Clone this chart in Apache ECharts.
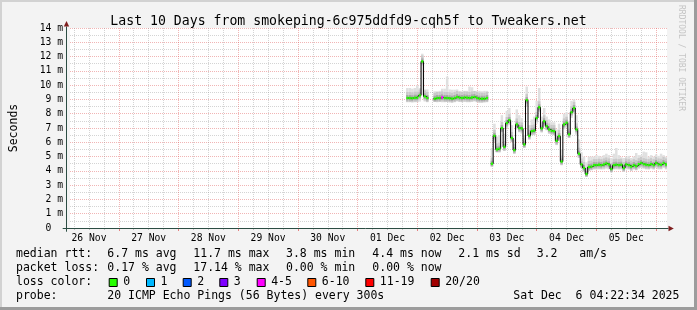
<!DOCTYPE html>
<html><head><meta charset="utf-8">
<script src="https://cdn.jsdelivr.net/npm/echarts@6/dist/echarts.min.js"></script>
<style>html,body{margin:0;padding:0;background:#f3f3f3}#c{width:697px;height:310px}</style>
</head><body><div id="c"></div><script>
// ---------- data ----------
const TITLE = 'Last 10 Days from smokeping-6c975ddfd9-cqh5f to Tweakers.net';
// x values are hours after 26 Nov 00:00; window = 26 Nov 04:22:34 .. 06 Dec 04:22:34
const xMin = 4.376, xMax = 244.376;
const dayLabelHours = [12, 36, 60, 84, 108, 132, 156, 180, 204, 228];
const dayLabels = ['26 Nov','27 Nov','28 Nov','29 Nov','30 Nov','01 Dec','02 Dec','03 Dec','04 Dec','05 Dec'];
const majorGridHours = [24, 48, 72, 96, 120, 144, 168, 192, 216, 240];
const minorGridHours = [6,12,18,30,36,42,54,60,66,78,84,90,102,108,114,126,132,138,150,156,162,174,180,186,198,204,210,222,228,234];
const yTickValues = [0,1,2,3,4,5,6,7,8,9,10,11,12,13,14];
const yTickLabels = ['0  ','1 m','2 m','3 m','4 m','5 m','6 m','7 m','8 m','9 m','10 m','11 m','12 m','13 m','14 m'];

// hourly samples (hours after 26 Nov 00:00)
const hours = [140,141,142,143,144,145,146,147,148,149,150,151,152,153,154,155,156,157,158,159,160,161,162,163,164,165,166,167,168,169,170,171,172,173,
 174,175,176,177,178,179,180,181,182,183,184,185,186,187,188,189,190,191,192,193,194,195,196,197,198,199,200,201,202,203,204,205,206,207,208,209,
 210,211,212,213,214,215,216,217,218,219,220,221,222,223,224,225,226,227,228,229,230,231,232,233,234,235,236,237,238,239,240,241,242,243,244];
// median rtt (ms)
const medianMs = [9.1,9.1,9.08,9.12,9.12,9.28,11.66,9.21,9.1, null,null,
 9.05,9.1,9.1,9.14,9.1,9.1,9.08,9.05,9.1,9.17,9.12,9.1,9.14,9.12,9.1,9.14,9.17,9.1,9.05,9.05,9.05,9.1, null,
 4.5,6.45,5.5,5.55,7.0,5.68,7.35,7.55,6.3,5.45,7.25,7.0,6.97,5.85,8.95,6.45,6.78,6.82,7.7,8.45,
 6.97,7.47,7.13,6.9,6.8,6.78,6.1,6.43,4.65,7.25,7.37,6.55,8.1,8.4,6.9,5.2,4.45,4.2,3.78,4.27,
 4.3,4.4,4.4,4.43,4.4,4.45,4.52,4.45,4.13,4.4,4.43,4.4,4.43,4.2,4.45,4.4,4.3,4.4,4.33,4.47,
 4.55,4.47,4.43,4.4,4.47,4.4,4.55,4.45,4.43,4.55,4.45];
// smoke (spread of the 20 pings) top and bottom (ms)
const smokeHiMs = [9.8,9.8,9.75,9.8,10.0,9.8,12.2,9.7,9.7, null,null,
 9.57,9.57,9.6,9.75,9.75,10.6,9.7,9.68,9.68,9.7,9.6,9.57,9.6,9.6,9.9,9.85,9.6,9.6,9.6,9.57,9.6,9.6, null,
 5.6,7.3,6.4,6.5,7.9,6.6,8.2,8.4,7.2,6.2,8.3,7.9,7.7,6.5,9.9,7.2,7.6,7.8,8.9,9.8,
 7.8,8.4,7.8,7.6,7.4,7.4,6.9,7.3,5.5,8.0,8.1,7.5,8.9,9.0,7.9,6.2,5.3,5.0,4.6,5.0,
 5.0,5.0,5.1,5.05,5.0,5.1,5.2,5.1,4.9,5.2,5.6,5.1,4.95,4.9,5.0,5.05,4.9,5.0,5.25,5.1,
 5.1,5.35,5.3,5.0,5.1,5.0,5.15,5.05,5.2,5.1,5.0];
const smokeLoMs = [8.8,8.8,8.8,8.8,8.8,8.85,9.3,8.85,8.8, null,null,
 8.82,8.8,8.82,8.8,8.8,8.82,8.8,8.78,8.8,8.85,8.82,8.8,8.82,8.8,8.8,8.82,8.85,8.8,8.78,8.78,8.8,8.8, null,
 4.3,6.0,5.3,5.3,6.7,5.4,7.0,7.2,6.0,5.2,6.9,6.7,6.6,5.6,8.5,6.2,6.5,6.5,7.3,8.1,
 6.7,7.1,6.85,6.6,6.55,6.5,5.8,6.1,4.4,6.9,7.0,6.3,7.7,8.0,6.5,4.9,4.2,3.95,3.6,4.0,
 4.05,4.1,4.1,4.1,4.1,4.1,4.15,4.1,3.9,4.1,4.1,4.1,4.1,3.95,4.1,4.1,4.0,4.1,4.05,4.15,
 4.2,4.15,4.1,4.1,4.15,4.1,4.2,4.1,4.1,4.2,4.1];
// hours with packet loss: [hour, pings lost of 20]; all other hours 0
const lossEvents = [[154, 3.43]];

const lossUpper = [0, 1, 2, 3, 5, 10, 19, 20];
const lossLabels = ['0','1','2','3','4-5','6-10','11-19','20/20'];
const lossColors = ['#26ff00','#00b8ff','#0059ff','#7e00ff','#ff00ff','#ff5500','#ff0000','#a10000'];

const statRows = [
  ['median rtt:', '6.7 ms avg', '11.7 ms max', '3.8 ms min', '4.4 ms now', '2.1 ms sd', '3.2', 'am/s'],
  ['packet loss:', '0.17 % avg', '17.14 % max', '0.00 % min', '0.00 % now']
];
const lossRowLabel = 'loss color:';
const probeRow = ['probe:', '20 ICMP Echo Pings (56 Bytes) every 300s'];
const stampText = 'Sat Dec  6 04:22:34 2025';
const sideText = 'RRDTOOL / TOBI OETIKER';

// ---------- chart ----------
const MONO = '"DejaVu Sans Mono", monospace';
const lossMap = {};
lossEvents.forEach(e => { lossMap[e[0]] = e[1]; });
function lossColor(l) { for (let i = 0; i < lossUpper.length; i++) if (l <= lossUpper[i]) return lossColors[i]; return lossColors[lossColors.length-1]; }

const smokeData = [], lineData = [], bandData = [];
hours.forEach((h, i) => {
  const m = medianMs[i];
  if (m == null) { lineData.push([h, '-']); return; }
  smokeData.push([h, smokeLoMs[i], smokeHiMs[i], m]);
  lineData.push([h, m]);
  bandData.push([h, m, lossMap[h] || 0]);
});

const chart = echarts.init(document.getElementById('c'), null, {renderer: 'canvas'});
const colX = [16, 107.3, 193.3, 286, 372.3, 458.3, 536.7, 579.3];
const rowY = [254.3, 268.3, 282.3, 296.3];
const boxX = [108.7, 146, 182.7, 219.3, 256.7, 307.3, 365.3, 430.7];
const graphics = [];
function txt(x, y, t, extra) {
  graphics.push({type: 'text', x: x, y: y, silent: true,
    style: Object.assign({text: t, fontFamily: MONO, fontSize: 11.5, fill: '#000', verticalAlign: 'middle', align: 'left'}, extra || {})});
}
statRows.forEach((row, r) => row.forEach((t, c) => txt(colX[c], rowY[r], t)));
txt(colX[0], rowY[2], lossRowLabel);
lossLabels.forEach((l, i) => {
  graphics.push({type: 'rect', silent: true, shape: {x: boxX[i] + 0.5, y: 278.5, width: 8, height: 8},
    style: {fill: lossColors[i], stroke: '#000', lineWidth: 1}});
  txt(boxX[i] + 14.5, rowY[2], l);
});
txt(colX[0], rowY[3], probeRow[0]);
txt(colX[1], rowY[3], probeRow[1]);
txt(513.3, rowY[3], stampText);
graphics.push({type: 'text', x: 681, y: 5, rotation: -Math.PI/2, silent: true,
  style: {text: sideText, fontFamily: MONO, fontSize: 8, fill: '#c4c4c4', verticalAlign: 'middle', align: 'left'}});
// frame shading
graphics.push({type:'rect', silent:true, shape:{x:0,y:0,width:697,height:2}, style:{fill:'#d2d2d2'}});
graphics.push({type:'rect', silent:true, shape:{x:0,y:0,width:2,height:310}, style:{fill:'#d2d2d2'}});
graphics.push({type:'rect', silent:true, shape:{x:694,y:0,width:3,height:310}, style:{fill:'#9c9c9c'}});
graphics.push({type:'rect', silent:true, shape:{x:0,y:307,width:697,height:3}, style:{fill:'#9c9c9c'}});
// axis lines and arrows
graphics.push({type:'line', silent:true, z: 50, shape:{x1:66.5,y1:231.7,x2:66.5,y2:26.5}, style:{stroke:'#2c4d43', lineWidth:1}});
graphics.push({type:'line', silent:true, z: 50, shape:{x1:62.7,y1:228.5,x2:668.5,y2:228.5}, style:{stroke:'#2c4d43', lineWidth:1}});
graphics.push({type:'polygon', silent:true, z: 50, shape:{points:[[63.8,26.5],[66.5,21],[69.2,26.5]]}, style:{fill:'#7f1f1f'}});
graphics.push({type:'polygon', silent:true, z: 50, shape:{points:[[668.5,225.8],[673.8,228.5],[668.5,231.2]]}, style:{fill:'#7f1f1f'}});

const MGRID = 'rgba(222,79,79,0.42)';
const GRID = 'rgba(143,143,143,0.38)';

const option = {
  backgroundColor: '#f3f3f3',
  animation: false,
  title: {text: TITLE, left: 'center', top: 10,
    textStyle: {fontFamily: MONO, fontSize: 13.2, fontWeight: 'normal', color: '#000'}},
  grid: {left: 67, top: 28, width: 600, height: 200, show: true, backgroundColor: '#ffffff', borderWidth: 0},
  xAxis: [
    {type: 'value', min: xMin, max: xMax, position: 'bottom',
     axisLine: {show: false},
     axisTick: {show: true, customValues: majorGridHours, length: 3, lineStyle: {color: 'rgba(222,79,79,0.7)'}},
     axisLabel: {show: true, customValues: dayLabelHours, formatter: v => dayLabels[dayLabelHours.indexOf(v)],
       fontFamily: MONO, fontSize: 9.7, color: '#000', margin: 5},
     splitLine: {show: true, lineStyle: {color: MGRID, type: [1, 1]}}},
    {type: 'value', min: xMin, max: xMax, position: 'bottom',
     axisLine: {show: false},
     axisTick: {show: true, customValues: minorGridHours, length: 2, lineStyle: {color: '#c0c0c0'}},
     axisLabel: {show: false},
     splitLine: {show: true, lineStyle: {color: GRID, type: [1, 1]}}}
  ],
  yAxis: {type: 'value', min: 0, max: 14, interval: 1,
    name: 'Seconds', nameLocation: 'middle', nameGap: 50, nameRotate: 90,
    nameTextStyle: {fontFamily: MONO, fontSize: 11.5, color: '#000'},
    axisLine: {show: false}, axisTick: {show: false},
    axisLabel: {formatter: v => yTickLabels[yTickValues.indexOf(v)], fontFamily: MONO, fontSize: 9.7, color: '#000', margin: 7},
    splitLine: {show: true, lineStyle: {color: MGRID, type: [1, 1]}},
    minorTick: {show: false, splitNumber: 2},
    minorSplitLine: {show: true, lineStyle: {color: GRID, type: [1, 1]}}},
  series: [
    {type: 'custom', name: 'smoke', coordinateSystem: 'cartesian2d', clip: true, z: 2,
     encode: {x: 0, y: [1, 2, 3]}, data: smokeData,
     renderItem: function (params, api) {
       const h = api.value(0);
       const pHi = api.coord([h - 0.5, api.value(2)]);
       const pLo = api.coord([h + 0.5, api.value(1)]);
       const pM = api.coord([h, api.value(3)]);
       const x = pHi[0], w = pLo[0] - pHi[0];
       const top = pHi[1], bot = pLo[1];
       const m1t = Math.max(top, pM[1] - 6), m1b = Math.min(bot, pM[1] + 4);
       const m2t = Math.max(top, pM[1] - 3), m2b = Math.min(bot, pM[1] + 2.5);
       return {type: 'group', children: [
         {type: 'rect', shape: {x: x, y: top, width: w, height: bot - top}, style: {fill: '#e0e0e0'}},
         {type: 'rect', shape: {x: x, y: m1t, width: w, height: Math.max(0, m1b - m1t)}, style: {fill: '#c9c9c9'}},
         {type: 'rect', shape: {x: x, y: m2t, width: w, height: Math.max(0, m2b - m2t)}, style: {fill: '#a9a9a9'}}
       ]};
     }},
    {type: 'line', name: 'median', data: lineData, step: 'middle', showSymbol: false, symbol: 'none',
     connectNulls: false, z: 3, lineStyle: {color: '#000', width: 1}},
    {type: 'custom', name: 'loss', coordinateSystem: 'cartesian2d', clip: true, z: 4,
     encode: {x: 0, y: 1}, data: bandData,
     renderItem: function (params, api) {
       const h = api.value(0);
       const a = api.coord([h - 0.5, api.value(1)]);
       const b = api.coord([h + 0.5, api.value(1)]);
       return {type: 'rect', shape: {x: a[0] + 0.2, y: a[1] - 1.2, width: b[0] - a[0] - 0.4, height: 2.4},
         style: {fill: lossColor(api.value(2))}};
     }}
  ],
  graphic: graphics
};
chart.setOption(option);
</script></body></html>
